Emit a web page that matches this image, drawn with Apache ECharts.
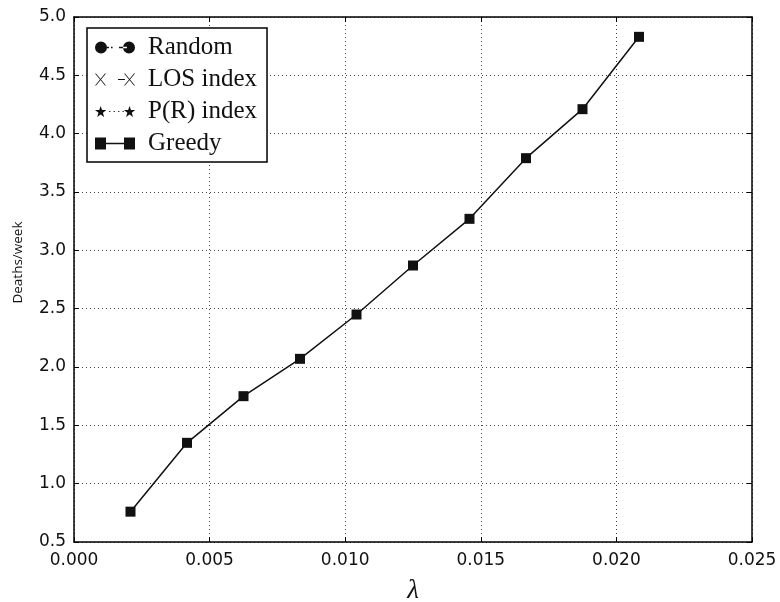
<!DOCTYPE html>
<html>
<head>
<meta charset="utf-8">
<script src="https://cdn.jsdelivr.net/npm/echarts@6/dist/echarts.min.js"></script>
<style>
    html, body { margin: 0; padding: 0; background: #fff; }
    #deathsContainer { width: 780px; height: 602px; }
</style>
</head>
<body>
<div id="deathsContainer"></div>
<script>
    'use strict';

    // 数据
    var lambdas = [0.002083, 0.004167, 0.00625, 0.008333, 0.010417, 0.0125, 0.014583, 0.016667, 0.01875, 0.020833];
    var greedy = [0.76, 1.35, 1.75, 2.07, 2.45, 2.87, 3.27, 3.79, 4.21, 4.83];
    var seriesNames = ['Random', 'LOS index', 'P(R) index', 'Greedy'];
    var xTicks = [0, 0.025, 0.005];   // min, max, interval
    var yTicks = [0.5, 5.0, 0.5];

    var container = document.getElementById('deathsContainer');
    var chart;

    // legend icons: marker - line - marker, box 48 x 12 (text starts after it)
    var pin = ' M47.99,0h0.01v0.01z M47.99,12h0.01v-0.01z';
    var icons = {
        'Random': 'path://M0,6 A6,6 0 1,0 12,6 A6,6 0 1,0 0,6 Z M12,5.3h2v1.4h-2z M16,5.3h1.6v1.4h-1.6z M24,5.3h8v1.4h-8z' +
            ' M28,6 A6,6 0 1,0 40,6 A6,6 0 1,0 28,6 Z' + pin,
        'LOS index': 'path://M0,0 L1,0 L11,12 L10,12 Z M10,0 L11,0 L1,12 L0,12 Z M23,5.4h7v1.2h-7z' +
            ' M29,0 L30,0 L40,12 L39,12 Z M39,0 L40,0 L30,12 L29,12 Z' + pin,
        'P(R) index': 'path://M5.5,0.5 L6.9,4.6 L11.2,4.6 L7.7,7.2 L9,11.5 L5.5,8.9 L2,11.5 L3.3,7.2 L-0.2,4.6 L4.1,4.6 Z' +
            ' M14,5.4h1.2v1.2h-1.2z M18.5,5.4h1.2v1.2h-1.2z M23,5.4h1.2v1.2h-1.2z M27.5,5.4h1.2v1.2h-1.2z' +
            ' M34.5,0.5 L35.9,4.6 L40.2,4.6 L36.7,7.2 L38,11.5 L34.5,8.9 L31,11.5 L32.3,7.2 L28.8,4.6 L33.1,4.6 Z' +
            ' M0,0h0.01v0.01z M0,12h0.01v-0.01z' + pin,
        'Greedy': 'path://M0,0H11V12H0Z M11,5.25H29V6.75H11Z M29,0H40V12H29Z' + pin
    };

    function pairs(xs, ys) {
        return xs.map(function (x, i) { return [x, ys[i]]; });
    }

    var gridLine = { show: true, lineStyle: { color: '#444', width: 1, type: [1, 3] } };
    var boxLine = { show: true, onZero: false, lineStyle: { color: '#000', width: 1.5 } };
    var tickIn = { show: true, inside: true, length: 5, lineStyle: { color: '#000', width: 1 } };

    var option = {
        animation: false,
        backgroundColor: '#fff',
        grid: { left: 74, right: 28, top: 17, bottom: 60, containLabel: false, outerBoundsMode: 'none' },
        legend: {
            orient: 'vertical',
            left: 87,
            top: 28,
            padding: [7, 10, 6, 8],
            itemGap: 7,
            itemWidth: 48,
            itemHeight: 12,
            borderColor: '#000',
            borderWidth: 1.5,
            backgroundColor: '#fff',
            selectedMode: false,
            textStyle: { fontFamily: 'Liberation Serif', fontSize: 25, lineHeight: 25, color: '#111' },
            itemStyle: { color: '#111', borderWidth: 0 },
            lineStyle: { width: 0 },
            data: seriesNames.map(function (n) { return { name: n, icon: icons[n] }; })
        },
        xAxis: [{
            type: 'value',
            min: xTicks[0], max: xTicks[1], interval: xTicks[2],
            name: 'λ',
            nameLocation: 'middle',
            nameGap: 35,
            nameTextStyle: { fontFamily: 'Liberation Serif', fontStyle: 'italic', fontSize: 27, color: '#111' },
            axisLine: boxLine,
            axisTick: tickIn,
            splitLine: gridLine,
            axisLabel: {
                margin: 10,
                fontFamily: 'DejaVu Sans', fontSize: 17, color: '#111',
                formatter: function (v) { return v.toFixed(3); }
            }
        }, {
            type: 'value', position: 'top',
            min: xTicks[0], max: xTicks[1], interval: xTicks[2],
            axisLine: boxLine, axisTick: tickIn,
            axisLabel: { show: false }, splitLine: { show: false }
        }],
        yAxis: [{
            type: 'value',
            min: yTicks[0], max: yTicks[1], interval: yTicks[2],
            name: 'Deaths/week',
            nameLocation: 'middle',
            nameGap: 49,
            nameTextStyle: { fontFamily: 'Open Sans', fontSize: 13.5, color: '#111', padding: [0, 0, 0, 34] },
            axisLine: boxLine,
            axisTick: tickIn,
            splitLine: gridLine,
            axisLabel: {
                margin: 8,
                fontFamily: 'DejaVu Sans', fontSize: 17, color: '#111',
                formatter: function (v) { return v.toFixed(1); }
            }
        }, {
            type: 'value', position: 'right',
            min: yTicks[0], max: yTicks[1], interval: yTicks[2],
            axisLine: boxLine, axisTick: tickIn,
            axisLabel: { show: false }, splitLine: { show: false }
        }],
        series: [
            { name: 'Random', type: 'line', data: [], symbol: 'circle' },
            { name: 'LOS index', type: 'line', data: [], symbol: 'none' },
            { name: 'P(R) index', type: 'line', data: [], symbol: 'none' },
            {
                name: 'Greedy',
                type: 'line',
                data: pairs(lambdas, greedy),
                symbol: 'rect',
                symbolSize: 10,
                itemStyle: { color: '#111' },
                lineStyle: { color: '#111', width: 1.5 },
                z: 5
            }
        ]
    };

    chart = echarts.init(container, null, { renderer: 'canvas' });
    chart.setOption(option);
</script>
</body>
</html>
